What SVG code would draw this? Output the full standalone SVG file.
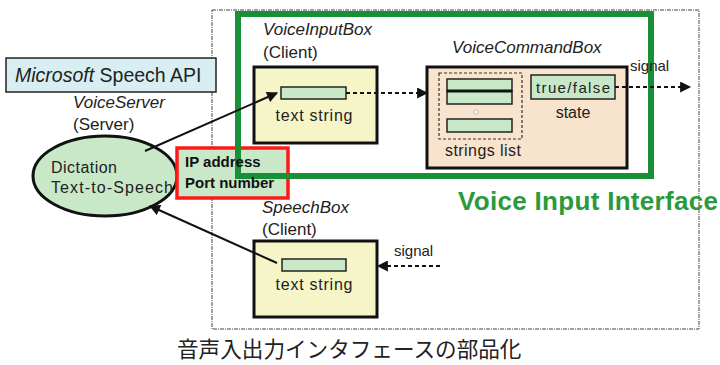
<svg xmlns="http://www.w3.org/2000/svg" width="720" height="365" viewBox="0 0 720 365">
<defs>
<style>
text{font-family:"Liberation Sans",Arial,sans-serif;fill:#222;}
.it{font-style:italic;}
.lbl{font-size:17px;}
.sm{font-size:15px;}
.box{stroke:#111;stroke-width:3;}
.field{fill:#c8e8c8;stroke:#222;stroke-width:1.5;}
.conn{stroke:#111;stroke-width:2;fill:none;}
.dash{stroke:#111;stroke-width:2;fill:none;stroke-dasharray:4 3;}
</style>
<marker id="ah" viewBox="0 0 10 10" refX="9" refY="5" markerWidth="12" markerHeight="11" orient="auto" markerUnits="userSpaceOnUse">
<path d="M0,0 L10,5 L0,10 z" fill="#111"/>
</marker>
</defs>
<rect width="720" height="365" fill="#fff"/>

<g id="outer-frame">
<rect x="212" y="10" width="487" height="319" fill="none" stroke="#444" stroke-width="1" stroke-dasharray="4 1 1 1"/>
</g>

<g id="speech-api">
<rect x="6" y="58" width="210" height="34" fill="#d8eef2" stroke="#222" stroke-width="1.5"/>
<text x="15" y="82" font-size="19.5"><tspan class="it">Microsoft</tspan> Speech API</text>
</g>

<g id="voice-server">
<text x="73" y="108" class="lbl it">VoiceServer</text>
<text x="73" y="130" class="lbl">(Server)</text>
<ellipse cx="105" cy="176" rx="72" ry="40" fill="#c8e8c8" stroke="#111" stroke-width="3"/>
<text x="51" y="173" font-size="16" textLength="66">Dictation</text>
<text x="51" y="193" font-size="16" textLength="122">Text-to-Speech</text>
</g>

<g id="ip-box">
<rect x="177" y="148" width="111" height="50" fill="#c8e8c8" stroke="#ff1a1a" stroke-width="3.5"/>
</g>

<g id="voice-input-interface">
<rect x="238" y="14" width="413" height="162" fill="none" stroke="#189038" stroke-width="6"/>
<text x="458" y="210" font-size="26" font-weight="bold" style="fill:#2a9a3a" textLength="260">Voice Input Interface</text>
</g>

<g id="ip-text">
<text x="185" y="167" font-size="15" font-weight="bold" style="fill:#111">IP address</text>
<text x="185" y="188" font-size="15" font-weight="bold" style="fill:#111">Port number</text>
</g>

<g id="voice-input-box">
<text x="263" y="35" class="lbl it">VoiceInputBox</text>
<text x="263" y="58" class="lbl">(Client)</text>
<rect x="254" y="67" width="123" height="76" fill="#f5f5c8" class="box"/>
<rect x="281" y="87" width="65" height="12" class="field"/>
<text x="314" y="121" font-size="16" text-anchor="middle" textLength="77">text string</text>
</g>

<g id="voice-command-box">
<text x="452" y="53" class="lbl it">VoiceCommandBox</text>
<rect x="427" y="67" width="200" height="101" fill="#f8e4cc" class="box"/>
<rect x="439" y="73" width="83" height="66" fill="none" stroke="#333" stroke-width="1.2" stroke-dasharray="3 2"/>
<rect x="447" y="79" width="65" height="12" class="field"/>
<rect x="447" y="91" width="65" height="13" class="field"/>
<line x1="447" y1="91" x2="512" y2="91" stroke="#111" stroke-width="3"/>
<circle cx="476" cy="112" r="2.2" fill="#fff" stroke="#bbb" stroke-width="1"/>
<rect x="447" y="119" width="65" height="13" class="field"/>
<text x="483" y="156" font-size="16" text-anchor="middle" textLength="76">strings list</text>
<rect x="531" y="75" width="84" height="24" class="field"/>
<text x="573" y="93" font-size="15" text-anchor="middle" textLength="74">true/false</text>
<text x="573" y="118" font-size="16" text-anchor="middle">state</text>
</g>

<g id="speech-box">
<text x="262" y="213" class="lbl it">SpeechBox</text>
<text x="262" y="235" class="lbl">(Client)</text>
<rect x="254" y="241" width="123" height="76" fill="#f5f5c8" class="box"/>
<rect x="282" y="259" width="64" height="12" class="field"/>
<text x="314" y="290" font-size="16" text-anchor="middle" textLength="77">text string</text>
</g>

<g id="connectors">
<line x1="145" y1="151" x2="277" y2="93" class="conn" marker-end="url(#ah)"/>
<line x1="346" y1="93" x2="427" y2="93" class="dash" marker-end="url(#ah)"/>
<line x1="615" y1="87" x2="690" y2="87" class="dash" marker-end="url(#ah)"/>
<text x="630" y="71" class="sm">signal</text>
<line x1="277" y1="263" x2="150" y2="206" class="conn" marker-end="url(#ah)"/>
<line x1="440" y1="266" x2="378" y2="266" class="dash" stroke-width="1.5" marker-end="url(#ah)"/>
<text x="394" y="256" class="sm">signal</text>
</g>

<g id="title">
<text x="177" y="357" font-size="21.6" style="font-family:'Noto Sans CJK JP','Noto Sans CJK SC',sans-serif;font-weight:400">音声入出力インタフェースの部品化</text>
</g>
</svg>
